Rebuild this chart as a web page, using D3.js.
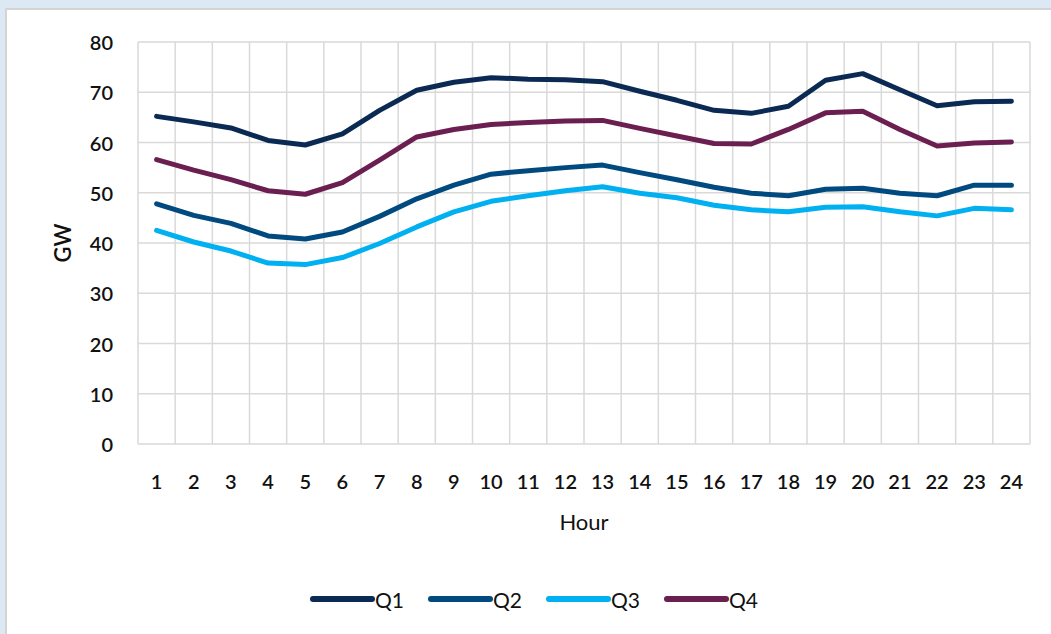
<!DOCTYPE html>
<html>
<head>
<meta charset="utf-8">
<script src="https://cdnjs.cloudflare.com/ajax/libs/d3/7.8.5/d3.min.js"></script>
<style>
  html, body { margin: 0; padding: 0; background: #dce9f5; }
  #box { position: absolute; left: 5px; top: 8px; width: 1046px; height: 626px;
         background: #fff; border-left: 2px solid #d4d4d4; border-top: 2px solid #d4d4d4; }
  svg { position: absolute; left: -7px; top: -10px; }
  text { font-family: Lato, "Open Sans", sans-serif; fill: #111; }
</style>
</head>
<body>
<div id="box"></div>
<script>
// hourly load by quarter, GW
var hours = d3.range(1, 25);
var seriesNames = ["Q1", "Q2", "Q3", "Q4"];
var colors = ["#0b2a53", "#004a80", "#00b0f0", "#6b1f50"];

var q1 = [65.2, 64.1, 62.9, 60.4, 59.5, 61.7, 66.4, 70.4, 72.0, 72.9, 72.6, 72.5,
          72.1, 70.2, 68.4, 66.4, 65.8, 67.2, 72.4, 73.7, 70.5, 67.3, 68.1, 68.2];
var q2 = [47.8, 45.5, 43.9, 41.4, 40.8, 42.2, 45.3, 48.8, 51.5, 53.7, 54.4, 55.0,
          55.5, 54.0, 52.6, 51.1, 49.9, 49.4, 50.7, 50.9, 49.9, 49.4, 51.5, 51.5];
var q3 = [42.5, 40.2, 38.4, 36.0, 35.7, 37.1, 39.9, 43.2, 46.2, 48.3, 49.4, 50.4,
          51.2, 49.9, 49.0, 47.5, 46.6, 46.2, 47.1, 47.2, 46.2, 45.4, 46.9, 46.6];
var q4 = [56.6, 54.5, 52.6, 50.4, 49.7, 52.0, 56.5, 61.1, 62.6, 63.6, 64.0, 64.3,
          64.4, 62.8, 61.3, 59.8, 59.7, 62.6, 65.9, 66.2, 62.6, 59.3, 59.9, 60.1];
var yTicks = [0, 10, 20, 30, 40, 50, 60, 70, 80];

var allSeries = [q1, q2, q3, q4];

var W = 1051, H = 634;
var svg = d3.select("#box").append("svg").attr("width", W).attr("height", H);

var plotL = 138, plotR = 1030, plotT = 42, plotB = 444;

var x = d3.scaleBand().domain(hours).range([plotL, plotR]).padding(0);
var y = d3.scaleLinear().domain([0, 80]).range([plotB, plotT]);

// gridlines
var grid = svg.append("g").attr("stroke", "#d9d9d9").attr("stroke-width", 1.5);
grid.selectAll(".hg").data(yTicks).enter().append("line")
    .attr("x1", plotL).attr("x2", plotR)
    .attr("y1", function(d) { return y(d); }).attr("y2", function(d) { return y(d); });
var vb = hours.map(function(h) { return x(h); }).concat([plotR]);
grid.selectAll(".vg").data(vb).enter().append("line")
    .attr("x1", function(d) { return d; }).attr("x2", function(d) { return d; })
    .attr("y1", plotT).attr("y2", plotB);

// y axis labels
svg.append("g").selectAll("text").data(yTicks).enter().append("text")
    .attr("x", 113).attr("y", function(d) { return y(d); })
    .attr("text-anchor", "end").attr("dominant-baseline", "central")
    .attr("font-size", 20).attr("font-weight", 600)
    .text(function(d) { return d; });

// x axis labels
svg.append("g").selectAll("text").data(hours).enter().append("text")
    .attr("x", function(d) { return x(d) + x.bandwidth() / 2; }).attr("y", 481)
    .attr("text-anchor", "middle").attr("dominant-baseline", "central")
    .attr("font-size", 20).attr("font-weight", 600)
    .text(function(d) { return d; });

svg.append("text").attr("x", 584).attr("y", 521)
    .attr("text-anchor", "middle").attr("dominant-baseline", "central")
    .attr("font-size", 22).text("Hour");

svg.append("text").attr("transform", "translate(62,243) rotate(-90)")
    .attr("text-anchor", "middle").attr("dominant-baseline", "central")
    .attr("font-size", 22).attr("font-weight", 600).text("GW");

// lines
var line = d3.line()
    .x(function(d, i) { return x(hours[i]) + x.bandwidth() / 2; })
    .y(function(d) { return y(d); });

svg.append("g").selectAll("path").data(allSeries).enter().append("path")
    .attr("d", line)
    .attr("fill", "none")
    .attr("stroke", function(d, i) { return colors[i]; })
    .attr("stroke-width", 5)
    .attr("stroke-linejoin", "round")
    .attr("stroke-linecap", "round");

// legend
var legX = [313, 431, 549, 667];
var leg = svg.append("g").selectAll("g").data(seriesNames).enter().append("g")
    .attr("transform", function(d, i) { return "translate(" + legX[i] + ",599)"; });
leg.append("line").attr("x1", 0).attr("x2", 59).attr("y1", 0).attr("y2", 0)
    .attr("stroke", function(d, i) { return colors[i]; })
    .attr("stroke-width", 6).attr("stroke-linecap", "round");
leg.append("text").attr("x", 62).attr("y", 0)
    .attr("dominant-baseline", "central").attr("font-size", 21)
    .text(function(d) { return d; });
</script>
</body>
</html>
